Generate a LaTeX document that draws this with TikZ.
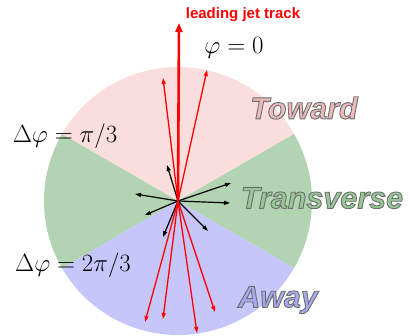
\documentclass[tikz,border=0pt]{standalone}
\usepackage{fontspec}
\setsansfont{Liberation Sans}
\usetikzlibrary{arrows.meta, positioning, calc}

\definecolor{towardbg}{RGB}{250,222,222}
\definecolor{transbg}{RGB}{178,212,178}
\definecolor{awaybg}{RGB}{198,198,250}
\definecolor{towardtxt}{RGB}{236,186,186}
\definecolor{transtxt}{RGB}{150,200,150}
\definecolor{awaytxt}{RGB}{168,168,238}

% outlined text: fill and stroke
\newcommand{\outlined}[1]{\special{pdf:literal 2 Tr 0.9 w 0.43 G}#1\special{pdf:literal 0 Tr}}

\begin{document}
\begin{tikzpicture}[
      x=1pt, y=1pt,
      region/.style={font=\sffamily\bfseries\itshape\fontsize{30.5}{34}\selectfont, inner sep=0pt},
      angle/.style={font=\fontsize{26}{30}\selectfont, inner sep=0pt},
      jet/.style={-{Triangle[length=9pt, width=7pt]}, red, line width=2.6pt},
      redtrk/.style={-{Triangle[length=6pt, width=4pt]}, red, line width=1.3pt},
      blktrk/.style={-{Triangle[length=6pt, width=4pt]}, black, line width=1.2pt}
    ]
    \useasboundingbox (0,0) rectangle (410,335);

    \coordinate (o) at (178,134);

    % the three regions
    \fill[towardbg] (o) -- ++(30:134) arc[start angle=30, end angle=150, radius=134] -- cycle;
    \fill[transbg] (o) -- ++(150:134) arc[start angle=150, end angle=210, radius=134] -- cycle;
    \fill[transbg] (o) -- ++(-30:134) arc[start angle=-30, end angle=30, radius=134] -- cycle;
    \fill[awaybg] (o) -- ++(210:134) arc[start angle=210, end angle=330, radius=134] -- cycle;

    % track ends
    \coordinate (lead) at (179,312);
    \coordinate (t1) at (163,257);
    \coordinate (t2) at (207,265);
    \coordinate (a1) at (145,13);
    \coordinate (a2) at (163,16);
    \coordinate (a3) at (197,2);
    \coordinate (a4) at (215,23);
    \coordinate (b1) at (167,170);
    \coordinate (b2) at (135,141);
    \coordinate (b3) at (145,120);
    \coordinate (b4) at (163,98);
    \coordinate (b5) at (208,104);
    \coordinate (b6) at (230,132);
    \coordinate (b7) at (231,152);

    \foreach \e in {b1,b2,b3,b4,b5,b6,b7}
      \draw[blktrk] (o) -- (\e);
    \foreach \e in {t1,t2,a1,a2,a3,a4}
      \draw[redtrk] (o) -- (\e);
    \draw[jet] (o) -- (lead);

    % labels
    \node[red, font=\sffamily\bfseries\fontsize{15}{17}\selectfont, inner sep=0pt] (jetlbl) at (243,320) {leading jet track};
    \node[angle] (phi0) at (234,287) {$\varphi = 0$};
    \node[angle] (dphi1) at (65,199) {$\Delta\varphi = \pi/3$};
    \node[angle] (dphi2) at (73,70) {$\Delta\varphi = 2\pi/3$};

    \node[region, text=towardtxt] (toward) at (304,227) {\outlined{Toward}};
    \node[region, text=transtxt] (trans) at (322,137) {\outlined{Transverse}};
    \node[region, text=awaytxt] (away) at (278,35) {\outlined{Away}};
  \end{tikzpicture}
\end{document}
